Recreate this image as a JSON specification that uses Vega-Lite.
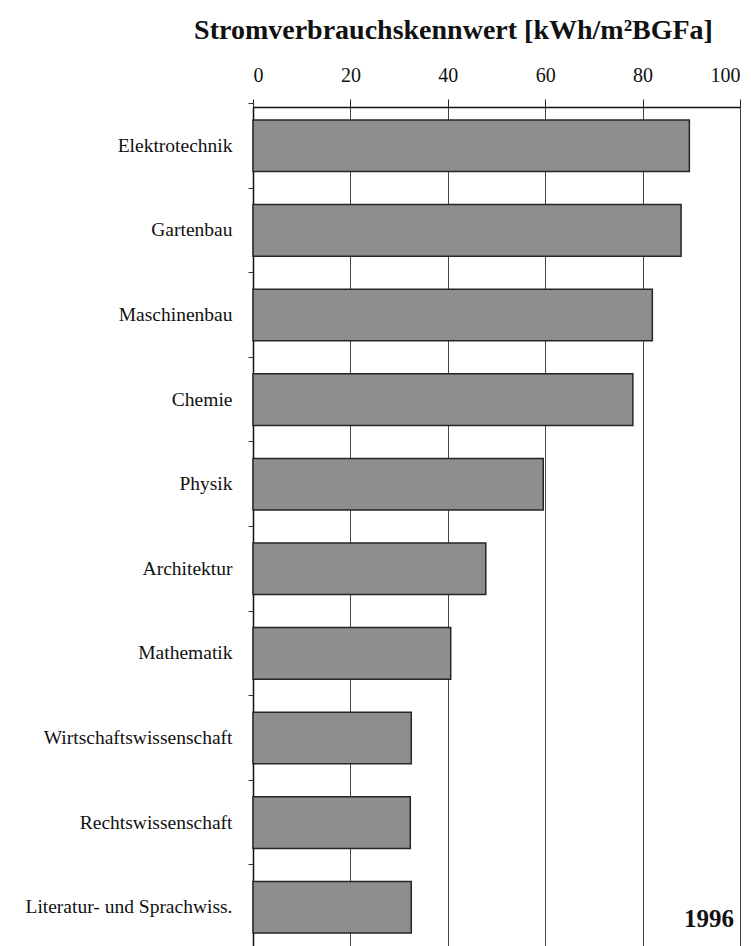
{
  "$schema": "https://vega.github.io/schema/vega-lite/v6.json",
  "width": 487,
  "height": 839,
  "autosize": {"type": "none"},
  "padding": {"left": 253, "top": 107, "right": 11, "bottom": 0},
  "background": "white",
  "title": {
    "text": "Stromverbrauchskennwert [kWh/m²BGFa]",
    "font": "Liberation Serif",
    "fontSize": 28,
    "fontWeight": "bold",
    "color": "#111",
    "anchor": "middle",
    "frame": "group",
    "dx": -43,
    "offset": 20
  },
  "config": {
    "view": {"stroke": null},
    "axis": {"labelFont": "Liberation Serif", "labelColor": "#111"}
  },
  "data": {
    "values": [
      {"fach": "Elektrotechnik", "wert": 89.6},
      {"fach": "Gartenbau", "wert": 87.9},
      {"fach": "Maschinenbau", "wert": 82.0},
      {"fach": "Chemie", "wert": 78.0},
      {"fach": "Physik", "wert": 59.6},
      {"fach": "Architektur", "wert": 47.8},
      {"fach": "Mathematik", "wert": 40.6},
      {"fach": "Wirtschaftswissenschaft", "wert": 32.5},
      {"fach": "Rechtswissenschaft", "wert": 32.3},
      {"fach": "Literatur- und Sprachwiss.", "wert": 32.5}
    ]
  },
  "encoding": {
    "y": {
      "field": "fach",
      "type": "nominal",
      "sort": null,
      "scale": {"paddingInner": 0.39, "paddingOuter": 0.153},
      "axis": {
        "title": null,
        "labelFontSize": 19.5,
        "labelPadding": 16,
        "labelLimit": 300,
        "tickSize": 5,
        "tickColor": "#333",
        "bandPosition": -0.32,
        "domainColor": "#111",
        "domainWidth": 1.5,
        "grid": false
      }
    },
    "x": {
      "field": "wert",
      "type": "quantitative",
      "scale": {"domain": [0, 100], "nice": false},
      "axis": {
        "orient": "top",
        "title": null,
        "values": [0, 20, 40, 60, 80, 100],
        "labelFontSize": 20,
        "labelPadding": 14,
        "tickSize": 8,
        "tickColor": "#222",
        "domainColor": "#111",
        "domainWidth": 1.5,
        "grid": true,
        "gridColor": "#444",
        "gridWidth": 1,
        "gridOpacity": 1
      }
    }
  },
  "layer": [
    {
      "mark": {"type": "bar", "color": "#8e8e8e", "stroke": "#262626", "strokeWidth": 1.5}
    },
    {
      "data": {"values": [{"jahr": "1996", "pos": 100, "fach": "Literatur- und Sprachwiss."}]},
      "mark": {
        "type": "text",
        "font": "Liberation Serif",
        "fontSize": 25,
        "fontWeight": "bold",
        "align": "right",
        "baseline": "middle",
        "dx": -6,
        "dy": 12,
        "color": "#111"
      },
      "encoding": {
        "text": {"field": "jahr"},
        "x": {"field": "pos", "type": "quantitative"},
        "y": {"field": "fach", "type": "nominal"}
      }
    }
  ]
}
